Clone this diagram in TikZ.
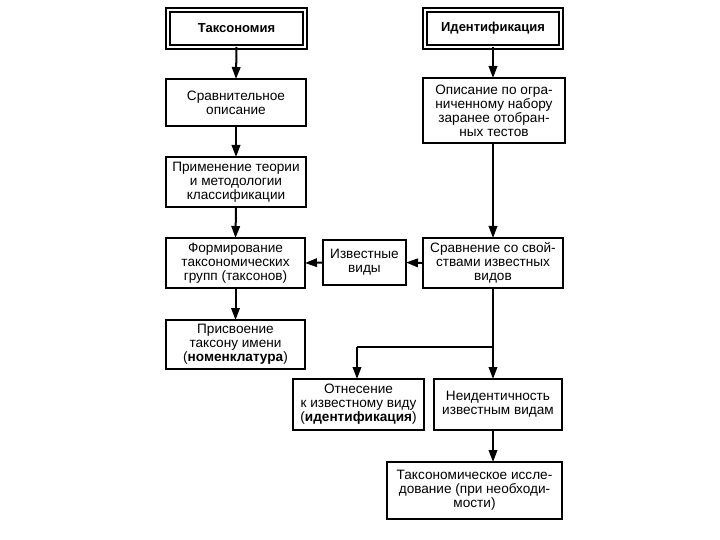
\documentclass[tikz,border=0pt]{standalone}
\usepackage{fontspec}
\setmainfont{Liberation Sans}
\usetikzlibrary{arrows.meta}
\begin{document}
\begin{tikzpicture}[x=1pt,y=-1pt,
  every node/.style={inner sep=0pt, outer sep=0pt},
  box/.style={draw, line width=2.8pt, rectangle, align=center,
    font=\fontsize{13.6}{14}\selectfont},
  titlebox/.style={draw, line width=1.6pt, rectangle, align=center,
    font=\fontsize{13}{14}\selectfont\bfseries,
    double, double distance=2pt},
  conn/.style={line width=2pt, -{Triangle[length=12pt,width=8.5pt]}},
  thin/.style={line width=1.1pt}]
\useasboundingbox[fill=white] (0,0) rectangle (720,540);

\node[titlebox, minimum width=137pt, minimum height=37pt] (tax) at (236.5,28.5) {Таксономия};
\node[titlebox, minimum width=136pt, minimum height=37pt] (ident) at (493,28.5) {Идентификация};

\node[box, minimum width=140pt, minimum height=47pt] (sravn) at (236,102.5) {Сравнительное\\описание};
\node[box, minimum width=140pt, minimum height=50pt] (prim) at (236,182) {Применение теории\\и методологии\\классификации};
\node[box, minimum width=139pt, minimum height=50pt] (form) at (235.5,263) {Формирование\\таксономических\\групп (таксонов)};
\node[box, minimum width=139pt, minimum height=49pt] (prisv) at (235.5,344.5) {Присвоение\\таксону имени\\(\textbf{номенклатура})};
\node[box, minimum width=83pt, minimum height=45pt] (izv) at (364.5,262.5) {Известные\\виды};

\node[box, minimum width=142pt, minimum height=65pt] (opis) at (494,110.5) {Описание по огра-\\ниченному набору\\заранее отобран-\\ных тестов};
\node[box, minimum width=140pt, minimum height=50pt] (sravsv) at (493,263) {Сравнение со свой-\\ствами известных\\видов};
\node[box, minimum width=131pt, minimum height=51pt] (otnes) at (358.5,404.5) {Отнесение\\к известному виду\\(\textbf{идентификация})};
\node[box, minimum width=128pt, minimum height=51pt] (neid) at (498,404.5) {Неидентичность\\известным видам};
\node[box, minimum width=175pt, minimum height=57pt] (taxis) at (474.5,490.5) {Таксономическое иссле-\\дование (при необходи-\\мости)};

\coordinate (br) at (493,347);
\coordinate (brl) at (357,347);

\draw[conn] (tax.south) -- (sravn.north);
\draw[conn] (sravn.south) -- (prim.north);
\draw[conn] (prim.south) -- (form.north);
\draw[conn] (form.south) -- (prisv.north);
\draw[conn] (izv.west) -- (form.east);
\draw[conn] (sravsv.west) -- (izv.east);
\draw[conn] (ident.south) -- (opis.north -| ident.south);
\draw[conn] (opis.south -| sravsv.north) -- (sravsv.north);
\draw[conn] (sravsv.south) -- (sravsv.south |- neid.north);
\draw[thin] (br) -- (brl);
\draw[conn] (brl) -- (brl |- otnes.north);
\draw[conn] (sravsv.south |- neid.south) -- (sravsv.south |- taxis.north);
\end{tikzpicture}
\end{document}
